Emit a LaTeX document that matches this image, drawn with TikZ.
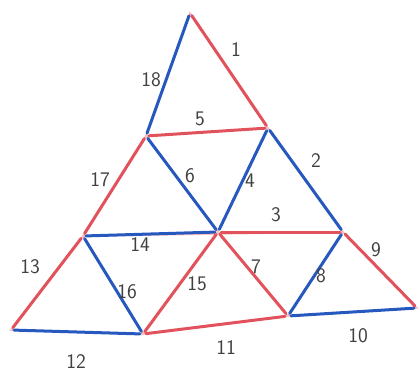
\documentclass[tikz,border=0pt]{standalone}
\usetikzlibrary{calc}

\begin{document}
\begin{tikzpicture}[
  x=1pt, y=-1pt, line cap=round,
  sketch/.style={draw=red!25, line width=1.6pt},
  redge/.style={draw={rgb,255:red,226;green,82;blue,92}, line width=3pt, shorten <=3pt, shorten >=3pt},
  bedge/.style={draw={rgb,255:red,38;green,88;blue,190}, line width=3pt, shorten <=3pt, shorten >=3pt},
  lbl/.style={text=black!75, font=\sffamily\huge},
]
  \useasboundingbox (0,0) rectangle (420,378);

  % corners of the small triangles
  \coordinate (T)  at (190,13);
  \coordinate (L1) at (146,136);
  \coordinate (R1) at (268,128);
  \coordinate (L2) at (83,236);
  \coordinate (M2) at (218,232);
  \coordinate (R2) at (343,232);
  \coordinate (B0) at (11,330);
  \coordinate (B1) at (143,334);
  \coordinate (B2) at (288,316);
  \coordinate (B3) at (417,308);

  % pencil lines below
  \draw[sketch] (T)--(L1)--(L2)--(B0)--(B1)--(B2)--(B3)--(R2)--(R1)--cycle;
  \draw[sketch] (L1)--(R1) (L2)--(R2);
  \draw[sketch] (L1)--(M2)--(R1) (L2)--(B1)--(M2)--(B2)--(R2);

  \draw[redge] (T)--(R1);
  \draw[bedge] (T)--(L1);
  \draw[redge] (L1)--(R1);
  \draw[bedge] (R1)--(R2);
  \draw[bedge] (L1)--(M2);
  \draw[bedge] (R1)--(M2);
  \draw[redge] (L1)--(L2);
  \draw[bedge] (L2)--(M2);
  \draw[redge] (M2)--(R2);
  \draw[redge] (L2)--(B0);
  \draw[bedge] (L2)--(B1);
  \draw[redge] (M2)--(B1);
  \draw[redge] (M2)--(B2);
  \draw[bedge] (R2)--(B2);
  \draw[redge] (R2)--(B3);
  \draw[bedge] (B0)--(B1);
  \draw[redge] (B1)--(B2);
  \draw[bedge] (B2)--(B3);

  \node[lbl] (n1)  at (236,50)  {1};
  \node[lbl] (n2)  at (316,161) {2};
  \node[lbl] (n3)  at (276,215) {3};
  \node[lbl] (n4)  at (250,181) {4};
  \node[lbl] (n5)  at (200,119) {5};
  \node[lbl] (n6)  at (190,176) {6};
  \node[lbl] (n7)  at (256,267) {7};
  \node[lbl] (n8)  at (321,276) {8};
  \node[lbl] (n9)  at (376,250) {9};
  \node[lbl] (n10) at (358,336) {10};
  \node[lbl] (n11) at (226,348) {11};
  \node[lbl] (n12) at (76,362)  {12};
  \node[lbl] (n13) at (30,267)  {13};
  \node[lbl] (n14) at (140,245) {14};
  \node[lbl] (n15) at (197,284) {15};
  \node[lbl] (n16) at (127,292) {16};
  \node[lbl] (n17) at (100,180) {17};
  \node[lbl] (n18) at (151,80)  {18};
\end{tikzpicture}
\end{document}
